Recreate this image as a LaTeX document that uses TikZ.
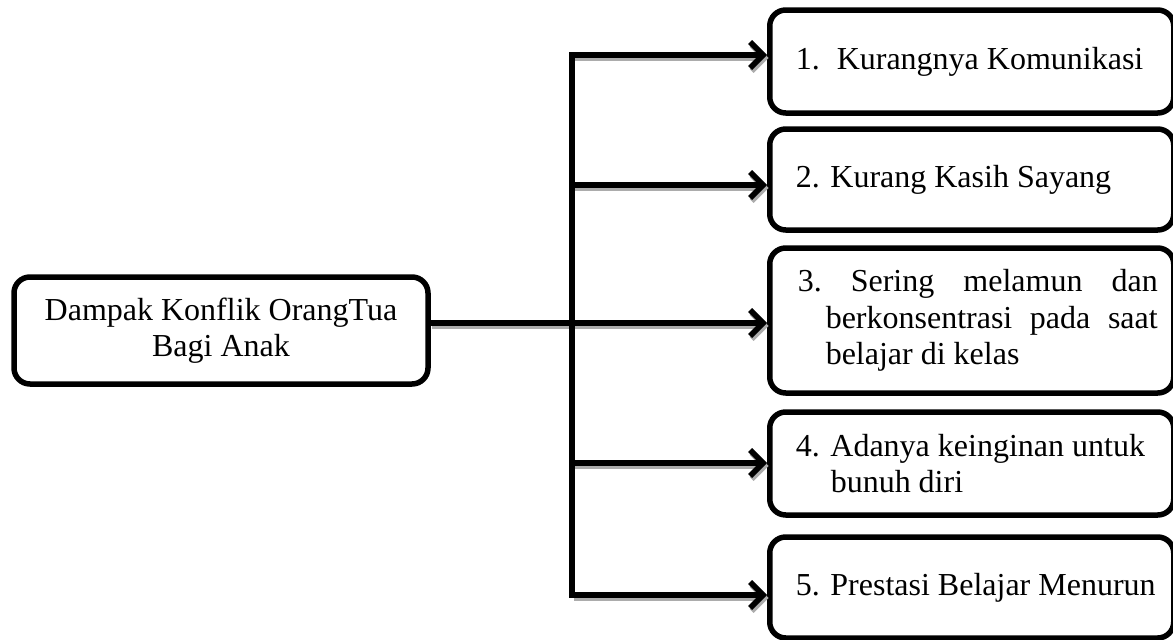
\documentclass[tikz,border=0pt]{standalone}
\usepackage{fontspec}
\setmainfont{Liberation Serif}
\usetikzlibrary{arrows.meta}
\newcommand{\boxtext}[1]{\parbox{372pt}{\raggedright\spaceskip=0pt\relax\xspaceskip=0pt\relax #1}}
\newcommand{\midtext}[1]{\parbox{400pt}{\centering\spaceskip=0pt\relax\xspaceskip=0pt\relax #1}}
\tikzset{
  box/.style={draw=black, line width=5.5pt, rounded corners=16pt, fill=white,
    font=\fontsize{32}{36.5}\selectfont},
  rbox/.style={box, anchor=west, inner xsep=16pt, inner ysep=0pt,
    minimum width=404pt},
  shadowed/.style={preaction={draw=gray!65, line width=5.5pt, transform canvas={xshift=1.5pt,yshift=-3pt}}},
  conn/.style={line width=5.5pt, -{Straight Barb[length=13pt,width=26pt]}, shadowed},
  trunk/.style={line width=5.5pt, line cap=rect},
}
\begin{document}
\begin{tikzpicture}[x=1pt,y=-1pt]
\useasboundingbox (0,0) rectangle (1173,640);
% trunk junctions
\coordinate (j1) at (572,55);
\coordinate (j2) at (572,185);
\coordinate (j3) at (572,323);
\coordinate (j4) at (572,463);
\coordinate (j5) at (572,595);
% left box
\node[box, minimum width=414pt, minimum height=107pt, inner sep=0pt] (lb) at (221,330.5)
  {\midtext{Dampak Konflik OrangTua\\Bagi Anak}};
% right boxes
\node[rbox, minimum height=103pt] (b1) at (767,61.5)
  {\boxtext{\hspace*{10pt}1.\hspace{17pt}Kurangnya Komunikasi}};
\node[rbox, minimum height=101pt] (b2) at (767,179.5)
  {\boxtext{\hspace*{10pt}2. Kurang Kasih Sayang}};
\node[rbox, minimum height=145pt] (b3) at (767,320.5)
  {\boxtext{\hspace*{12pt}\makebox[360pt][s]{3.\ Sering melamun dan}\\
   \hspace*{40pt}\makebox[332pt][s]{berkonsentrasi pada saat}\\
   \hspace*{40pt}belajar di kelas}};
\node[rbox, minimum height=103pt] (b4) at (767,463.5)
  {\boxtext{\hspace*{10pt}4. Adanya keinginan untuk\\
   \hspace*{45pt}bunuh diri}};
\node[rbox, minimum height=101pt] (b5) at (767,587.5)
  {\boxtext{\hspace*{10pt}5. Prestasi Belajar Menurun}};
% connectors
\draw[conn] (lb.east |- j3) -- (j3 -| b3.west);
\draw[conn] (j1) -- (j1 -| b1.west);
\draw[conn] (j2) -- (j2 -| b2.west);
\draw[conn] (j4) -- (j4 -| b4.west);
\draw[conn] (j5) -- (j5 -| b5.west);
\draw[trunk] (j1) -- (j5);
\end{tikzpicture}
\end{document}
